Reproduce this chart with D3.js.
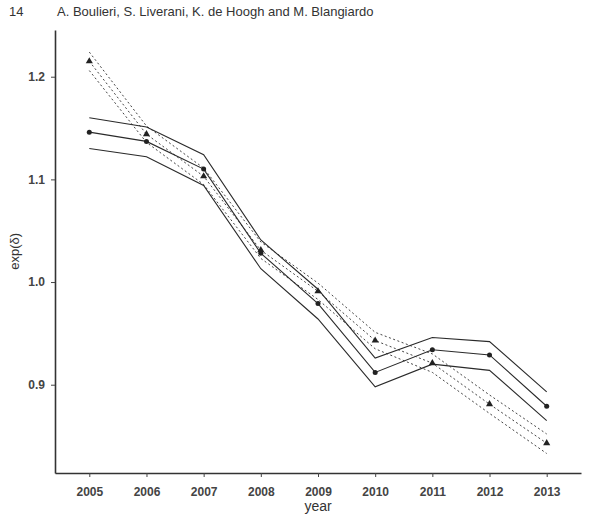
<!DOCTYPE html>
<html>
<head>
<meta charset="utf-8">
<script src="https://cdn.jsdelivr.net/npm/d3@7"></script>
<style>
  body { margin: 0; background: #fff; }
  svg { display: block; }
</style>
</head>
<body>
<div id="chart"></div>
<script>
// years on the x axis
const years = [2005, 2006, 2007, 2008, 2009, 2010, 2011, 2012, 2013];

// solid series (circles) with its band
const solidMean = [1.146, 1.137, 1.110, 1.028, 0.979, 0.912, 0.934, 0.929, 0.879];
const solidUpper = [1.160, 1.151, 1.124, 1.041, 0.993, 0.926, 0.946, 0.942, 0.893];
const solidLower = [1.130, 1.122, 1.094, 1.013, 0.964, 0.898, 0.920, 0.914, 0.865];

// dotted series (triangles) with its band
const dottedMean = [1.215, 1.144, 1.103, 1.031, 0.991, 0.943, 0.921, 0.881, 0.843];
const dottedUpper = [1.224, 1.152, 1.111, 1.039, 0.999, 0.951, 0.930, 0.890, 0.852];
const dottedLower = [1.206, 1.136, 1.095, 1.023, 0.983, 0.935, 0.912, 0.872, 0.833];

const yTicks = [0.9, 1.0, 1.1, 1.2];

const width = 598, height = 515;
const svg = d3.select("#chart").append("svg")
  .attr("width", width)
  .attr("height", height);

const font = "'Liberation Sans', Arial, sans-serif";

// page header
svg.append("text").attr("x", 9).attr("y", 16)
  .attr("font-family", font).attr("font-size", 13).attr("fill", "#333")
  .text("14");
svg.append("text").attr("x", 57).attr("y", 16)
  .attr("font-family", font).attr("font-size", 13).attr("fill", "#333")
  .text("A. Boulieri, S. Liverani, K. de Hoogh and M. Blangiardo");

const x = d3.scaleLinear().domain([2004.4, 2013.6]).range([55, 581]);
const y = d3.scaleLinear().domain([0.814, 1.2455]).range([473, 30]);

// axes (L-shaped box)
const xAxis = svg.append("g")
  .attr("transform", `translate(0,${y.range()[0]})`)
  .call(d3.axisBottom(x).tickValues(years).tickFormat(d3.format("d")).tickSize(4).tickSizeOuter(0));
const yAxis = svg.append("g")
  .attr("transform", `translate(${x.range()[0]},0)`)
  .call(d3.axisLeft(y).tickValues(yTicks).tickFormat(d3.format(".1f")).tickSize(4).tickSizeOuter(0));

[xAxis, yAxis].forEach(g => {
  g.select(".domain").attr("stroke", "#333").attr("stroke-width", 1.6);
  g.selectAll(".tick line").attr("stroke", "#444").attr("stroke-width", 1);
  g.selectAll(".tick text")
    .attr("font-family", font).attr("font-size", 12)
    .attr("font-weight", "bold").attr("fill", "#444");
});
xAxis.selectAll(".tick text").attr("dy", "1.35em");
yAxis.selectAll(".tick text").attr("x", -10);

// axis titles
svg.append("text").attr("x", 318).attr("y", 511)
  .attr("text-anchor", "middle")
  .attr("font-family", font).attr("font-size", 14).attr("fill", "#333")
  .text("year");
svg.append("text")
  .attr("transform", `translate(19,${y(1.03)}) rotate(-90)`)
  .attr("text-anchor", "middle")
  .attr("font-family", font).attr("font-size", 13).attr("fill", "#333")
  .text("exp(δ)");

const line = d3.line().x((d, i) => x(years[i])).y(d => y(d));

// dotted series
[dottedUpper, dottedMean, dottedLower].forEach(s => {
  svg.append("path").datum(s)
    .attr("d", line)
    .attr("fill", "none")
    .attr("stroke", "#444")
    .attr("stroke-width", 1)
    .attr("stroke-dasharray", "2,2.5");
});

// solid series
[solidUpper, solidMean, solidLower].forEach(s => {
  svg.append("path").datum(s)
    .attr("d", line)
    .attr("fill", "none")
    .attr("stroke", "#2a2a2a")
    .attr("stroke-width", 1.1);
});

// circle markers
svg.selectAll("circle.pt").data(solidMean).enter().append("circle")
  .attr("class", "pt")
  .attr("cx", (d, i) => x(years[i]))
  .attr("cy", d => y(d))
  .attr("r", 2.5)
  .attr("fill", "#222");

// triangle markers
const tri = d3.symbol().type(d3.symbolTriangle).size(22);
svg.selectAll("path.tri").data(dottedMean).enter().append("path")
  .attr("class", "tri")
  .attr("d", tri)
  .attr("transform", (d, i) => `translate(${x(years[i])},${y(d)})`)
  .attr("fill", "#222");
</script>
</body>
</html>
